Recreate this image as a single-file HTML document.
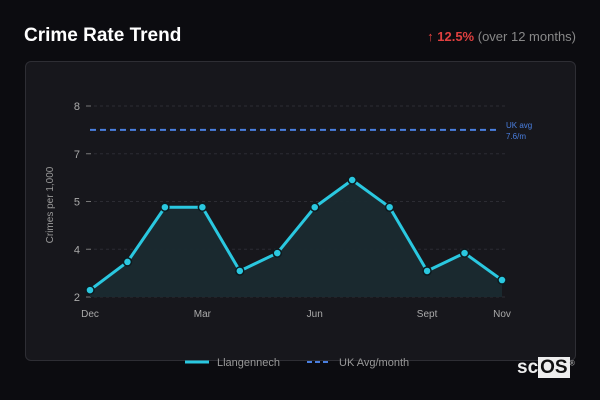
<!DOCTYPE html>
<html><head><meta charset="utf-8"><style>
html,body{margin:0;padding:0;width:600px;height:400px;background:#0c0c10;overflow:hidden;font-family:"Liberation Sans",sans-serif}
#title{position:absolute;left:24px;top:25px;font-size:19px;font-weight:bold;color:#fff}
#change{position:absolute;right:24px;top:29px;font-size:13px;color:#888}
#change b{color:#e0403f}
#card{position:absolute;left:25px;top:61px;width:549px;height:298px;background:#17171c;border:1px solid #2e2e34;border-radius:6px}
svg{position:absolute;left:0;top:0}
#logo{position:absolute;left:517px;top:357px;font-size:19px;font-weight:bold;color:#eee;letter-spacing:0}
#logo span{background:#eee;color:#111;padding:0 2px}
</style></head><body>
<div id="title">Crime Rate Trend</div>
<div id="change"><b>↑ 12.5%</b> (over 12 months)</div>
<div id="card"></div>
<svg id="chart" width="600" height="400"></svg>
<div id="logo">sc<span>OS</span><sup style="font-size:7px;color:#aaa">®</sup></div>
<script>
const months = ["Dec","Jan","Feb","Mar","Apr","May","Jun","Jul","Aug","Sept","Oct","Nov"];
const values = [2.29,3.47,4.88,4.88,3.09,3.84,4.88,5.9,4.88,3.09,3.84,2.71];
const yTicks = [2,4,5,7,8];
const xLabels = ["Dec","Mar","Jun","Sept","Nov"];
const ukAvg = 7.5;
const ukLabel = ["UK avg","7.6/m"];

const NS="http://www.w3.org/2000/svg";
const svg=document.getElementById('chart');
const x0=90,x1=502,yBottom=297,tickStep=47.75;
function xs(i){return x0+(x1-x0)*i/(months.length-1);}
function ys(v){
  for(let k=0;k<yTicks.length-1;k++){
    if(v<=yTicks[k+1]||k===yTicks.length-2){
      const t=(v-yTicks[k])/(yTicks[k+1]-yTicks[k]);
      return yBottom-(k+t)*tickStep;
    }
  }
}
function el(tag,attrs,text){const e=document.createElementNS(NS,tag);for(const a in attrs)e.setAttribute(a,attrs[a]);if(text!==undefined)e.textContent=text;svg.appendChild(e);return e;}

yTicks.forEach(v=>{
  const y=ys(v);
  const g=el('line',{x1:88,x2:505,y1:y,y2:y,stroke:'#2c2c33','stroke-dasharray':'3,3'});
  
  
  const tk=el('line',{x1:86,x2:91,y1:y,y2:y,stroke:'#777'});
  
  
  const t=el('text',{x:80,y:y+4,fill:'#aaa','font-size':11,'text-anchor':'end'},v);
  
  
});
xLabels.forEach(l=>{
  const i=months.indexOf(l);
  const t=el('text',{x:xs(i),y:317,fill:'#aaa','font-size':10,'text-anchor':'middle'},l);
  
  
});
const yt=el('text',{x:0,y:0,fill:'#999','font-size':10,'text-anchor':'middle',transform:'translate(53,205) rotate(-90)'},'Crimes per 1,000');



let pts=values.map((v,i)=>xs(i)+','+ys(v));
const area=el('polygon',{points:xs(0)+','+yBottom+' '+pts.join(' ')+' '+xs(values.length-1)+','+yBottom,fill:'#1a2a30',opacity:0.95});



const ay=ys(ukAvg);
const al=el('line',{x1:90,x2:497,y1:ay,y2:ay,stroke:'#4a7fe0','stroke-width':2,'stroke-dasharray':'6,4'});


const a1=el('text',{x:506,y:ay-2,fill:'#4a7fe0','font-size':8},ukLabel[0]);


const a2=el('text',{x:506,y:ay+9,fill:'#4a7fe0','font-size':8},ukLabel[1]);



const line=el('polyline',{points:pts.join(' '),fill:'none',stroke:'#2ac8e0','stroke-width':3,'stroke-linejoin':'round'});


values.forEach((v,i)=>{
  const c=el('circle',{cx:xs(i),cy:ys(v),r:4,fill:'#2ac8e0',stroke:'#0d1a1f','stroke-width':1.5});
  
  
});

const l1=el('line',{x1:185,x2:209,y1:362,y2:362,stroke:'#2ac8e0','stroke-width':3});


const lt1=el('text',{x:217,y:366,fill:'#999','font-size':11},'Llangennech');


const l2=el('line',{x1:307,x2:331,y1:362,y2:362,stroke:'#4a7fe0','stroke-width':2,'stroke-dasharray':'5,3'});


const lt2=el('text',{x:339,y:366,fill:'#999','font-size':11},'UK Avg/month');


</script>
</body></html>
